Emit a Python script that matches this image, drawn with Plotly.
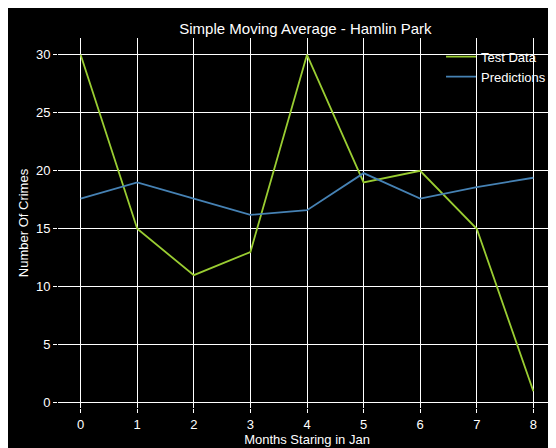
import plotly.graph_objects as go

months = list(range(9))
test_data = [30, 15, 11, 13, 30, 19, 20, 15, 1]
predictions = [17.6, 19, 17.6, 16.2, 16.6, 19.8, 17.6, 18.6, 19.4]

fig = go.Figure()
fig.add_trace(go.Scatter(x=months, y=test_data, mode='lines', name='Test Data',
                         line=dict(color='#9acd32', width=1.8)))
fig.add_trace(go.Scatter(x=months, y=predictions, mode='lines', name='Predictions',
                         line=dict(color='#4682b4', width=1.8)))

fig.update_layout(width=556, height=448, paper_bgcolor='black', plot_bgcolor='black',
                  font=dict(family='Liberation Sans, Arial', color='white', size=13),
                  title=dict(text='Simple Moving Average - Hamlin Park', x=0.535, y=0.965,
                             xanchor='center', font=dict(size=15), automargin=False),
                  margin=dict(l=50, r=8, t=30, b=48, autoexpand=False),
                  showlegend=True,
                  legend=dict(x=0.99, y=0.99, xanchor='right', yanchor='top',
                              bgcolor='rgba(0,0,0,0)', font=dict(size=13)),
                  xaxis=dict(title=dict(text='Months Staring in Jan', standoff=4, font=dict(size=13)),
                             range=[-0.4, 8.4], automargin=False,
                             tickvals=months, showgrid=True, gridcolor='white', gridwidth=1,
                             zeroline=False, showline=False, ticks='outside', tickcolor='white',
                             ticklen=4),
                  yaxis=dict(title=dict(text='Number Of Crimes', standoff=4, font=dict(size=13)),
                             range=[-0.45, 31.45], automargin=False,
                             tickvals=[0, 5, 10, 15, 20, 25, 30], showgrid=True, gridcolor='white',
                             gridwidth=1, zeroline=False, showline=False, ticks='outside',
                             tickcolor='white', ticklen=4))

fig.write_html("out.html")
